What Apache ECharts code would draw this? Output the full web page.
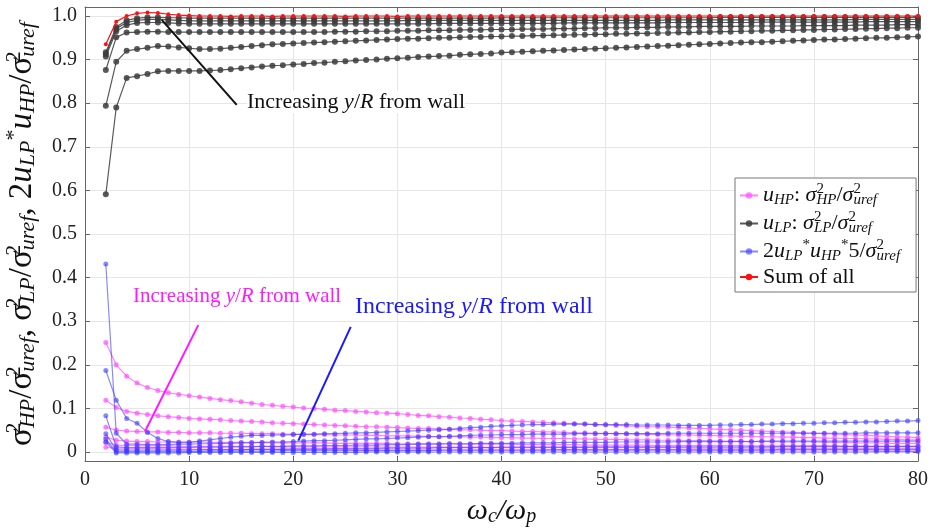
<!DOCTYPE html>
<html><head><meta charset="utf-8">
<script src="https://cdn.jsdelivr.net/npm/echarts@6/dist/echarts.min.js"></script>
<style>html,body{margin:0;padding:0;background:#fff}#c{width:934px;height:528px}</style>
</head><body><div id="c"></div>
<script>
// x values (omega_c / omega_p)
const omega = [2,3,4,5,6,7,8,9,10,11,
12,13,14,15,16,17,18,19,20,21,
22,23,24,25,26,27,28,29,30,31,
32,33,34,35,36,37,38,39,40,41,
42,43,44,45,46,47,48,49,50,51,
52,53,54,55,56,57,58,59,60,61,
62,63,64,65,66,67,68,69,70,71,
72,73,74,75,76,77,78,79,80];

const yTicks = [0,0.1,0.2,0.3,0.4,0.5,0.6,0.7,0.8,0.9,1.0];

// Sum of all
const sumAll = [0.935,0.987,1.000,1.006,1.008,1.007,1.004,1.002,1.001,1.000,
1.000,1.000,0.999,1.000,1.000,1.000,0.999,1.000,1.000,1.000,
1.000,1.000,1.000,0.999,1.000,1.000,1.000,1.000,0.999,1.000,
1.000,1.000,1.000,1.000,1.000,1.000,1.000,1.000,1.000,1.000,
1.000,1.000,1.000,1.000,1.000,1.000,1.000,1.000,1.000,1.000,
1.000,1.000,1.000,1.000,1.000,1.000,1.000,1.000,1.000,1.000,
1.000,1.000,1.000,1.000,1.000,1.000,1.000,1.000,1.000,1.000,
1.000,1.000,1.000,1.000,1.000,1.000,1.000,1.000,1.000];

// u_LP : sigma_LP^2 / sigma_uref^2 (six y/R positions)
const uLP1 = [.591,.790,.858,.862,.867,.873,.874,.874,.874,.874,
.875,.876,.878,.880,.882,.884,.886,.887,.889,.890,
.892,.893,.895,.896,.898,.899,.900,.902,.903,.904,
.906,.907,.908,.909,.911,.912,.913,.914,.916,.917,
.918,.919,.920,.921,.922,.923,.924,.925,.926,.927,
.928,.929,.930,.931,.932,.933,.934,.935,.936,.937,
.938,.939,.940,.940,.941,.942,.943,.944,.945,.946,
.946,.947,.948,.949,.950,.950,.951,.952,.953];
const uLP2 = [.794,.895,.920,.924,.927,.931,.930,.928,.926,.924,
.924,.925,.927,.929,.931,.933,.935,.936,.937,.938,
.939,.940,.941,.942,.943,.944,.945,.946,.947,.948,
.948,.949,.950,.950,.951,.952,.952,.953,.953,.954,
.954,.955,.955,.956,.956,.957,.957,.958,.958,.959,
.959,.960,.960,.961,.961,.962,.962,.963,.963,.964,
.964,.965,.965,.966,.966,.967,.967,.968,.968,.969,
.969,.970,.970,.971,.971,.972,.972,.973,.973];
const uLP3 = [.876,.951,.962,.963,.964,.964,.963,.963,.963,.963,
.963,.963,.963,.963,.963,.963,.963,.963,.963,.963,
.963,.963,.964,.964,.964,.965,.965,.965,.966,.966,
.966,.967,.967,.967,.968,.968,.968,.969,.969,.969,
.970,.970,.970,.971,.971,.971,.972,.972,.973,.973,
.973,.974,.974,.974,.975,.975,.975,.976,.976,.976,
.976,.976,.977,.977,.977,.977,.977,.978,.978,.978,
.978,.978,.979,.979,.979,.979,.980,.980,.980];
const uLP4 = [.907,.965,.979,.984,.985,.985,.984,.983,.982,.982,
.982,.982,.982,.982,.982,.982,.982,.982,.982,.982,
.982,.982,.982,.982,.982,.982,.982,.982,.982,.982,
.982,.982,.983,.983,.983,.983,.983,.983,.983,.983,
.983,.983,.983,.983,.984,.984,.984,.984,.984,.984,
.984,.984,.984,.984,.985,.985,.985,.985,.985,.985,
.985,.985,.985,.986,.986,.986,.986,.986,.986,.986,
.986,.986,.986,.987,.987,.987,.987,.987,.987];
const uLP5 = [.912,.971,.985,.990,.992,.992,.991,.990,.989,.989,
.989,.989,.989,.989,.989,.989,.989,.989,.989,.989,
.989,.989,.989,.989,.989,.989,.989,.989,.989,.990,
.990,.990,.990,.990,.990,.990,.990,.990,.990,.990,
.990,.990,.990,.990,.990,.990,.990,.990,.990,.990,
.990,.990,.990,.990,.991,.991,.991,.991,.991,.991,
.991,.991,.991,.991,.991,.991,.991,.991,.991,.991,
.991,.991,.992,.992,.992,.992,.992,.992,.992];
const uLP6 = [.917,.975,.990,.995,.997,.997,.996,.996,.995,.995,
.995,.995,.995,.995,.995,.995,.995,.995,.995,.995,
.995,.995,.995,.995,.995,.995,.995,.995,.995,.995,
.995,.995,.995,.995,.995,.995,.995,.995,.996,.996,
.996,.996,.996,.996,.996,.996,.996,.996,.996,.996,
.996,.996,.996,.996,.996,.996,.996,.996,.996,.997,
.997,.997,.997,.997,.997,.997,.997,.997,.997,.997,
.997,.997,.997,.997,.997,.997,.997,.997,.997];

// u_HP : sigma_HP^2 / sigma_uref^2
const uHP1 = [.251,.200,.174,.158,.148,.141,.136,.132,.129,.126,
.123,.120,.118,.115,.112,.109,.107,.105,.103,.101,
.100,.098,.096,.095,.093,.092,.090,.089,.088,.086,
.084,.083,.081,.080,.078,.077,.075,.074,.072,.071,
.070,.069,.068,.067,.066,.065,.064,.063,.062,.061,
.060,.059,.058,.058,.057,.056,.055,.054,.053,.052,
.051,.050,.049,.048,.047,.046,.045,.044,.043,.042,
.041,.040,.039,.038,.037,.036,.035,.034,.033];
const uHP2 = [.119,.102,.093,.089,.086,.083,.081,.079,.077,.076,
.075,.074,.072,.071,.070,.069,.067,.066,.065,.064,
.063,.062,.061,.060,.059,.058,.058,.057,.056,.055,
.054,.054,.053,.052,.051,.051,.050,.049,.049,.048,
.047,.047,.046,.046,.045,.044,.044,.043,.043,.042,
.042,.041,.041,.040,.040,.039,.039,.038,.038,.037,
.037,.036,.036,.035,.035,.034,.034,.033,.033,.032,
.032,.031,.031,.030,.030,.029,.029,.028,.028];
const uHP3 = [.057,.050,.048,.047,.046,.046,.045,.045,.044,.044,
.044,.043,.043,.043,.042,.042,.042,.041,.041,.040,
.040,.040,.039,.039,.039,.038,.038,.037,.037,.037,
.036,.036,.035,.035,.035,.034,.034,.033,.033,.033,
.032,.032,.031,.031,.031,.030,.030,.029,.029,.029,
.028,.028,.028,.027,.027,.027,.026,.026,.026,.025,
.025,.025,.024,.024,.024,.023,.023,.023,.023,.022,
.022,.022,.021,.021,.021,.020,.020,.020,.020];
const uHP4 = [.034,.027,.025,.024,.024,.023,.023,.023,.023,.023,
.022,.022,.022,.022,.022,.022,.021,.021,.021,.021,
.021,.021,.020,.020,.020,.020,.020,.020,.019,.019,
.019,.019,.019,.019,.018,.018,.018,.018,.018,.018,
.017,.017,.017,.017,.017,.017,.016,.016,.016,.016,
.016,.016,.016,.015,.015,.015,.015,.015,.015,.015,
.015,.015,.014,.014,.014,.014,.014,.014,.014,.014,
.014,.013,.013,.013,.013,.013,.013,.013,.013];
const uHP5 = [.022,.016,.015,.014,.014,.014,.014,.013,.013,.013,
.013,.013,.013,.013,.013,.013,.012,.012,.012,.012,
.012,.012,.012,.012,.012,.012,.011,.011,.011,.011,
.011,.011,.011,.011,.011,.011,.011,.010,.010,.010,
.010,.010,.010,.010,.010,.010,.010,.010,.010,.010,
.010,.010,.010,.010,.010,.010,.009,.009,.009,.009,
.009,.009,.009,.009,.009,.009,.009,.009,.009,.009,
.009,.009,.009,.009,.009,.009,.009,.009,.009];
const uHP6 = [.011,.008,.007,.007,.007,.007,.006,.006,.006,.006,
.006,.006,.006,.006,.006,.006,.006,.006,.006,.006,
.006,.006,.006,.006,.005,.005,.005,.005,.005,.005,
.005,.005,.005,.005,.005,.005,.005,.005,.005,.005,
.005,.005,.005,.005,.005,.005,.005,.005,.005,.005,
.005,.005,.005,.005,.005,.005,.004,.004,.004,.004,
.004,.004,.004,.004,.004,.004,.004,.004,.004,.004,
.004,.004,.004,.004,.004,.004,.004,.004,.004];

// 2 u_LP * u_HP * 5 / sigma_uref^2
const cross1 = [.431,.043,.018,.018,.017,.017,.017,.018,.018,.019,
.019,.020,.020,.021,.021,.022,.023,.023,.024,.025,
.026,.026,.027,.028,.029,.030,.030,.031,.032,.033,
.034,.035,.035,.036,.037,.038,.039,.039,.040,.040,
.040,.041,.041,.041,.041,.042,.042,.042,.042,.042,
.042,.042,.042,.042,.043,.043,.043,.043,.043,.043,
.043,.043,.043,.043,.043,.043,.043,.043,.043,.043,
.043,.043,.043,.044,.044,.044,.044,.044,.044];
const cross2 = [.187,.119,.077,.066,.045,.031,.024,.022,.022,.025,
.028,.031,.034,.036,.038,.038,.039,.039,.040,.041,
.041,.042,.042,.043,.044,.044,.045,.046,.047,.048,
.049,.050,.051,.052,.054,.056,.057,.059,.060,.061,
.062,.063,.063,.064,.064,.064,.064,.063,.063,.063,
.063,.062,.062,.062,.062,.061,.061,.061,.061,.062,
.062,.063,.063,.064,.064,.065,.065,.066,.066,.067,
.067,.068,.068,.069,.069,.070,.071,.071,.072];
const cross3 = [.083,.012,.010,.010,.010,.010,.010,.010,.010,.011,
.011,.011,.012,.012,.012,.013,.013,.013,.014,.014,
.014,.015,.015,.015,.016,.016,.016,.017,.017,.017,
.018,.018,.018,.019,.019,.019,.020,.020,.020,.020,
.021,.021,.021,.021,.022,.022,.022,.022,.022,.023,
.023,.023,.023,.023,.023,.024,.024,.024,.024,.024,
.024,.024,.024,.025,.025,.025,.025,.025,.025,.025,
.025,.025,.025,.025,.025,.025,.025,.025,.025];
const cross4 = [.042,.005,.004,.004,.004,.004,.004,.004,.004,.005,
.005,.005,.005,.005,.006,.006,.006,.006,.007,.007,
.007,.007,.008,.008,.008,.008,.008,.009,.009,.009,
.009,.009,.010,.010,.010,.010,.010,.010,.011,.011,
.011,.011,.011,.011,.011,.011,.011,.012,.012,.012,
.012,.012,.012,.012,.012,.012,.012,.012,.012,.012,
.012,.012,.012,.012,.012,.013,.013,.013,.013,.013,
.013,.013,.013,.013,.013,.013,.013,.013,.013];
const cross5 = [.029,.001,.001,.001,.001,.001,.001,.001,.001,.001,
.002,.002,.002,.002,.002,.002,.002,.003,.003,.003,
.003,.003,.003,.003,.003,.003,.003,.003,.003,.003,
.003,.003,.004,.004,.004,.004,.004,.004,.004,.004,
.004,.004,.004,.005,.005,.005,.005,.005,.005,.005,
.005,.005,.005,.005,.005,.005,.005,.005,.005,.005,
.005,.005,.005,.005,.005,.006,.006,.006,.006,.006,
.006,.006,.006,.006,.006,.006,.006,.006,.006];
const cross6 = [.023,-.002,-.002,-.002,-.002,-.002,-.002,-.002,-.001,-.001,
-.001,-.001,-.001,-.001,-.001,-.001,-.001,-.001,-.001,-.001,
-.001,-.001,-.001,-.001,-.001,.000,.000,.000,.000,.000,
.000,.000,.000,.000,.000,.000,.000,.000,.000,.000,
.000,.000,.000,.000,.000,.000,.000,.000,.000,.000,
.000,.000,.000,.000,.000,.000,.000,.000,.000,.000,
.000,.000,.000,.000,.000,.000,.000,.000,.000,.000,
.000,.000,.000,.000,.001,.001,.001,.001,.001];

const SERIF = 'Liberation Serif';
const legendText = {
  uHP: '{i|u}{sub|HP}{r|: }{i|σ}{supz|2}{sub|HP}{r|/}{i|σ}{supz|2}{sub|uref}',
  uLP: '{i|u}{sub|LP}{r|: }{i|σ}{supz|2}{sub|LP}{r|/}{i|σ}{supz|2}{sub|uref}',
  cross: '{r|2}{i|u}{sub|LP}{sup|*}{i|u}{sub|HP}{sup|*}{r|5/}{i|σ}{supz|2}{sub|uref}',
  sum: '{r|Sum of all}'
};
function richSet(main, small, dn, up, lh) {
  return {
    r: {fontFamily: SERIF, fontSize: main, lineHeight: lh},
    g: {fontFamily: SERIF, fontSize: main, lineHeight: lh},
    i: {fontFamily: SERIF, fontSize: main, fontStyle: 'italic', lineHeight: lh},
    sub: {fontFamily: SERIF, fontSize: small, fontStyle: 'italic', padding: [dn, 0, 0, 0], lineHeight: lh},
    sup: {fontFamily: SERIF, fontSize: small, padding: [0, 0, up, 0], lineHeight: lh},
    supz: {fontFamily: SERIF, fontSize: small, padding: [0, 0, up, 0], lineHeight: lh, width: 0}
  };
}

function mk(name, vals, color, size, opacity, z) {
  return {
    type: 'line', name: name, z: z,
    data: omega.map((x, k) => [x, vals[k]]),
    symbol: 'circle', symbolSize: size, showSymbol: true,
    lineStyle: {color: color, width: 1.2, opacity: opacity},
    itemStyle: {color: color, opacity: opacity},
    emphasis: {disabled: true}, animation: false
  };
}
const MAG = '#ff4dff', BLK = '#3c3c3c', BLU = '#3a3aff', RED = '#ff1010';
const series = [];
[uHP1, uHP2, uHP3, uHP4, uHP5, uHP6].forEach(v => series.push(mk('uHP', v, MAG, 5, 0.7, 2)));
[uLP1, uLP2, uLP3, uLP4, uLP5, uLP6].forEach(v => series.push(mk('uLP', v, BLK, 6, 0.85, 3)));
[cross1, cross2, cross3, cross4, cross5, cross6].forEach(v => series.push(mk('cross', v, BLU, 5, 0.6, 4)));
series.push(mk('sum', sumAll, RED, 4, 1, 5));
// annotation arrows (in data coordinates)
series.push({
  type: 'line', name: 'annot', data: [], silent: true, z: 6,
  markLine: {
    silent: true, symbol: 'none', animation: false, label: {show: false},
    data: [
      [{coord: [7.37, 0.991], lineStyle: {color: '#111', width: 2, type: 'solid'}}, {coord: [14.57, 0.796]}],
      [{coord: [5.76, 0.047], lineStyle: {color: '#ff1aff', width: 2, type: 'solid'}}, {coord: [10.88, 0.291]}],
      [{coord: [20.49, 0.026], lineStyle: {color: '#1a1aff', width: 2, type: 'solid'}}, {coord: [25.52, 0.287]}]
    ]
  }
});

const axisCol = '#666';
const yName = '{g|σ}{supz|2}{sub|HP}{g|/σ}{supz|2}{sub|uref}{g|, σ}{supz|2}{sub|LP}{g|/σ}{supz|2}{sub|uref}{g|, 2}{i|u}{sub|LP}{sup|*}{i|u}{sub|HP}{g|/σ}{supz|2}{sub|uref}';

const chart = echarts.init(document.getElementById('c'), null, {renderer: 'canvas'});
chart.setOption({
  animation: false,
  backgroundColor: '#fff',
  grid: {left: 85, right: 16, top: 7, bottom: 67, containLabel: false, outerBoundsMode: 'none'},
  xAxis: [{
    type: 'value', min: 0, max: 80, interval: 10,
    axisLine: {show: true, onZero: false, lineStyle: {color: axisCol}},
    axisTick: {show: true, inside: true, length: 5, lineStyle: {color: axisCol}},
    axisLabel: {fontFamily: SERIF, fontSize: 20, color: '#222', margin: 9},
    splitLine: {show: true, lineStyle: {color: '#e6e6e6'}},
    name: '{i|ω}{sub|c}{i|/ω}{sub|p}', nameLocation: 'middle', nameGap: 24,
    nameTextStyle: {color: '#111', rich: richSet(30, 20, 12, 12, 34)}
  }, {
    type: 'value', min: 0, max: 80, interval: 10, position: 'top',
    axisLine: {show: true, onZero: false, lineStyle: {color: axisCol}},
    axisTick: {show: true, inside: true, length: 5, lineStyle: {color: axisCol}},
    axisLabel: {show: false}, splitLine: {show: false}
  }],
  yAxis: [{
    type: 'value', min: -0.0206, max: 1.0206,
    axisLine: {show: true, onZero: false, lineStyle: {color: axisCol}},
    axisTick: {show: true, inside: true, length: 5, customValues: yTicks, lineStyle: {color: axisCol}},
    axisLabel: {customValues: yTicks, formatter: v => (v === 0 ? '0' : v.toFixed(1)), fontFamily: SERIF, fontSize: 20, color: '#222', margin: 8},
    splitLine: {show: true, lineStyle: {color: '#e6e6e6'}},
    name: yName, nameLocation: 'middle', nameRotate: 90, nameGap: 44,
    nameTextStyle: {color: '#111', rich: richSet(33, 22, 13, 16, 36)}
  }, {
    type: 'value', min: -0.0206, max: 1.0206, position: 'right',
    axisLine: {show: true, onZero: false, lineStyle: {color: axisCol}},
    axisTick: {show: true, inside: true, length: 5, customValues: yTicks, lineStyle: {color: axisCol}},
    axisLabel: {show: false, customValues: yTicks}, splitLine: {show: false}
  }],
  legend: {
    data: ['uHP', 'uLP', 'cross', 'sum'],
    orient: 'vertical', left: 735, top: 178,
    backgroundColor: '#fff', borderColor: '#777', borderWidth: 1,
    padding: [4, 16, 4, 4], itemWidth: 18, itemHeight: 8, itemGap: 1,
    selectedMode: false,
    formatter: n => legendText[n],
    textStyle: {color: '#111', fontFamily: SERIF, fontSize: 22, rich: richSet(22, 15, 10, 12, 22)}
  },
  graphic: [
    {type: 'text', left: 247, top: 91, z: 100, silent: true, style: {text: 'Increasing {i|y}/{i|R} from wall', fill: '#111', backgroundColor: '#fff', font: '22px "Liberation Serif"', rich: {i: {fontStyle: 'italic', fontSize: 22, fontFamily: SERIF}}}},
    {type: 'text', left: 133, top: 286, z: 100, silent: true, style: {text: 'Increasing {i|y}/{i|R} from wall', fill: '#ff1aff', font: '21px "Liberation Serif"', rich: {i: {fontStyle: 'italic', fontSize: 21, fontFamily: SERIF}}}},
    {type: 'text', left: 355, top: 295, z: 100, silent: true, style: {text: 'Increasing {i|y}/{i|R} from wall', fill: '#1a1aff', font: '24px "Liberation Serif"', rich: {i: {fontStyle: 'italic', fontSize: 24, fontFamily: SERIF}}}}
  ],
  series: series
});
</script>
</body></html>
